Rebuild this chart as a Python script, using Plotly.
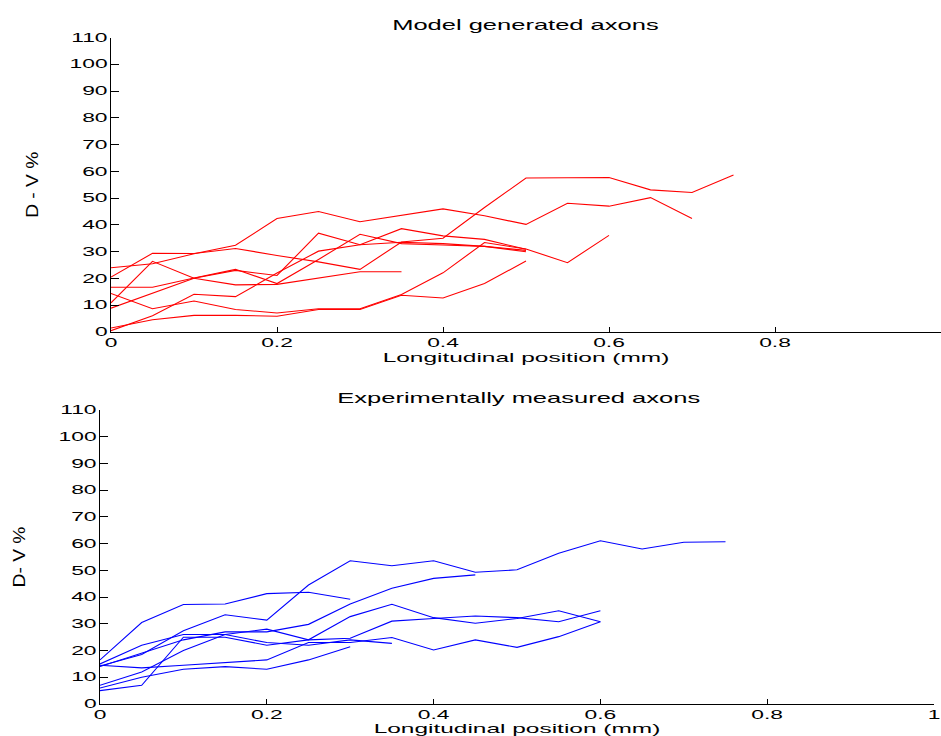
import plotly.graph_objects as go

# x positions (mm), step 0.05
x_steps = [round(i * 0.05, 2) for i in range(16)]

# Model generated axons (red) - D-V %
model_axons = [
    [20.5, 29.4, 29.3, 31.2, 28.6, 26.2, 23.4, 33.6, 35.0, 46.5, 57.5, 57.5, 57.7, 53.1, 52.1, 58.6],
    [24.0, 25.5, 29.2, 32.4, 42.4, 45.0, 41.2, 43.5, 46.0, 43.4, 40.2, 48.1, 47.0, 50.2, 42.4],
    [10.9, 26.4, 20.1, 17.6, 17.8, 20.2, 22.5, 22.5],
    [1.5, 4.6, 6.2, 6.2, 5.9, 8.4, 8.4, 13.7, 12.7, 18.1, 26.5],
    [14.4, 8.7, 11.6, 8.4, 7.1, 8.7, 8.7, 14.0, 22.1, 33.4, 31.0, 25.9, 36.1],
    [0.5, 6.1, 14.1, 13.2, 22.0, 30.2, 32.6, 38.6, 35.9, 34.6, 30.9],
    [16.7, 16.7, 20.2, 23.4, 18.1, 27.1, 36.5, 33.0, 32.5, 32.0, 30.5],
    [8.9, 14.5, 20.1, 23.0, 21.1, 36.9, 32.6, 33.5, 33.0, 32.0, 30.0],
]

# Experimentally measured axons (blue) - D-V %
exp_axons = [
    [14.2, 18.5, 27.4, 33.4, 31.4, 44.5, 53.6, 51.7, 53.6, 49.3, 50.2, 56.4, 61.1, 58.0, 60.5, 60.7],
    [16.5, 30.5, 37.2, 37.4, 41.3, 41.8, 39.2],
    [14.0, 19.0, 24.0, 27.0, 27.0, 29.8, 37.4, 43.3, 47.0, 48.3],
    [7.0, 12.0, 20.0, 26.0, 28.0, 24.0, 32.7, 37.3, 32.3, 30.2, 32.0, 34.9, 30.8],
    [5.0, 7.0, 25.0, 25.0, 22.0, 24.0, 24.6, 31.0, 32.0, 32.9, 32.3, 30.8, 34.9],
    [14.5, 13.5, 14.5, 15.5, 16.5, 23.0, 23.0, 24.9, 20.2, 24.0, 21.2, 25.2, 30.8],
    [6.0, 10.0, 13.0, 14.0, 13.0, 16.5, 21.4],
    [15.0, 22.0, 26.0, 26.0, 23.0, 22.0, 24.0, 22.7],
]

y_ticks = list(range(0, 111, 10))
x_ticks = [0, 0.2, 0.4, 0.6, 0.8, 1]
x_ticklabels = ["0", "0.2", "0.4", "0.6", "0.8", "1"]

W, H = 941, 736
FONT = "Liberation Sans"

fig = go.Figure()
for ys in model_axons:
    fig.add_trace(go.Scatter(x=x_steps[:len(ys)], y=ys, mode="lines",
                             line=dict(color="#ff0000", width=1.1),
                             xaxis="x", yaxis="y", showlegend=False, hoverinfo="skip"))
for ys in exp_axons:
    fig.add_trace(go.Scatter(x=x_steps[:len(ys)], y=ys, mode="lines",
                             line=dict(color="#0000ff", width=1.1),
                             xaxis="x2", yaxis="y2", showlegend=False, hoverinfo="skip"))

axis_common = dict(showgrid=False, zeroline=False, showline=True, linecolor="black",
                   linewidth=1, ticks="inside", tickcolor="black", automargin=False,
                   tickfont=dict(family=FONT, size=12, color="black"))

def xax(domain, anchor):
    return dict(axis_common, domain=domain, anchor=anchor, range=[0, 1],
                tickvals=x_ticks, ticktext=x_ticklabels, ticklen=5,
                title=dict(text="Longitudinal position (mm)",
                           font=dict(family=FONT, size=13, color="black"), standoff=0))

def yax(domain, anchor, title, standoff):
    return dict(axis_common, domain=domain, anchor=anchor, range=[0, 110],
                tickvals=y_ticks, ticklen=8,
                title=dict(text=title, font=dict(family=FONT, size=16, color="black"),
                           standoff=standoff))

fig.update_layout(
    width=W, height=H,
    margin=dict(l=0, r=0, t=0, b=0, autoexpand=False),
    paper_bgcolor="white", plot_bgcolor="white",
    xaxis=xax([111 / W, 1.0], "y"),
    yaxis=yax([1 - 332 / H, 1 - 37.5 / H], "x", "D - V %", 44),
    xaxis2=xax([100 / W, 934 / W], "y2"),
    yaxis2=yax([1 - 704 / H, 1 - 410 / H], "x2", "D- V %", 46),
    annotations=[
        dict(text="Model generated axons", x=525 / W, y=1 - 24 / H, xref="paper", yref="paper",
             xanchor="center", yanchor="middle",
             showarrow=False, font=dict(family=FONT, size=15, color="black")),
        dict(text="Experimentally measured axons", x=518 / W, y=1 - 397 / H, xref="paper", yref="paper",
             xanchor="center", yanchor="middle",
             showarrow=False, font=dict(family=FONT, size=15, color="black")),
    ],
)

# Remove the page margin and widen glyphs horizontally like the reference export
# (text stays real SVG text)
post = """
document.body.style.margin = '0';
document.body.style.overflow = 'hidden';
var gd = document.getElementById('{plot_id}');
function stretch(sel, f){
  gd.querySelectorAll(sel).forEach(function(t){
    var L = t.getComputedTextLength();
    if (L > 0) {
      t.setAttribute('textLength', (L * f).toFixed(1));
      t.setAttribute('lengthAdjust', 'spacingAndGlyphs');
    }
  });
}
stretch('.xtick text, .ytick text, .x2tick text, .y2tick text', 1.9);
stretch('.xtitle, .x2title', 1.88);
stretch('.ytitle, .y2title', 1.2);
stretch('.annotation-text', 1.7);
"""

fig.write_html("out.html", post_script=post, config={"displayModeBar": False})
